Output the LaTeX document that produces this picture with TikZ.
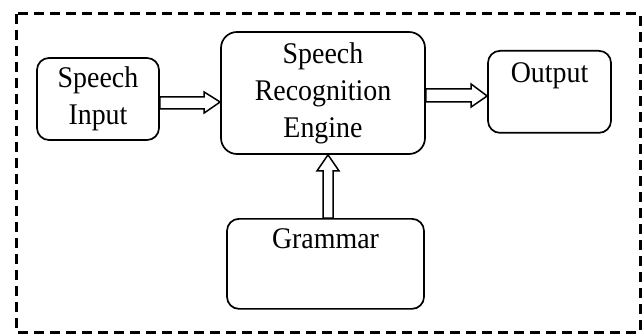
\documentclass[tikz,border=0pt]{standalone}
\usepackage{fontspec}
\setmainfont{Liberation Serif}[FakeStretch=0.93]
\usetikzlibrary{calc}
\begin{document}
\begin{tikzpicture}[x=1pt,y=-1pt,
  box/.style={draw,line width=1.7pt,rounded corners=12pt,inner sep=0pt,font=\fontsize{30}{37}\selectfont},
  blockarrow/.style={draw,line width=1.5pt,fill=white,line join=miter}]
\useasboundingbox (0,0) rectangle (643,334);
\draw[line width=3pt,dash pattern=on 10pt off 6pt] (16,14) rectangle (640,332);
\node[box,align=center,minimum width=122pt,minimum height=82pt] (in) at (98,99) {Speech\\Input};
\node[box,align=center,rounded corners=16pt,minimum width=204pt,minimum height=122pt] (eng) at (323,93) {Speech\\Recognition\\Engine};
\node[box,anchor=north,minimum width=123pt,text height=32pt,text depth=50pt] (out) at (549.5,50) {Output};
\node[box,anchor=north,minimum width=197pt,text height=30pt,text depth=60pt] (gram) at (325.5,218) {Grammar};
% arrow 1
\draw[blockarrow] ($(in.east)+(0,-2)$) -- ($(eng.west |- in.east)+(-16,-2)$) -- ($(eng.west |- in.east)+(-16,-7)$)
  -- ($(eng.west |- in.east)+(0,3)$) -- ($(eng.west |- in.east)+(-16,14)$) -- ($(eng.west |- in.east)+(-16,10)$)
  -- ($(in.east)+(0,10)$) -- cycle;
% arrow 2
\draw[blockarrow] ($(eng.east)+(0,-4)$) -- ($(out.west |- eng.east)+(-16,-4)$) -- ($(out.west |- eng.east)+(-16,-9)$)
  -- ($(out.west |- eng.east)+(0,3)$) -- ($(out.west |- eng.east)+(-16,14)$) -- ($(out.west |- eng.east)+(-16,9)$)
  -- ($(eng.east)+(0,9)$) -- cycle;
% arrow 3
\draw[blockarrow] ($(gram.north)+(-2.5,0)$) -- ($(eng.south -| gram.north)+(-2.5,16)$) -- ($(eng.south -| gram.north)+(-8.5,16)$)
  -- ($(eng.south -| gram.north)+(2.5,0)$) -- ($(eng.south -| gram.north)+(13.5,16)$) -- ($(eng.south -| gram.north)+(7.5,16)$)
  -- ($(gram.north)+(7.5,0)$) -- cycle;
\end{tikzpicture}
\end{document}
